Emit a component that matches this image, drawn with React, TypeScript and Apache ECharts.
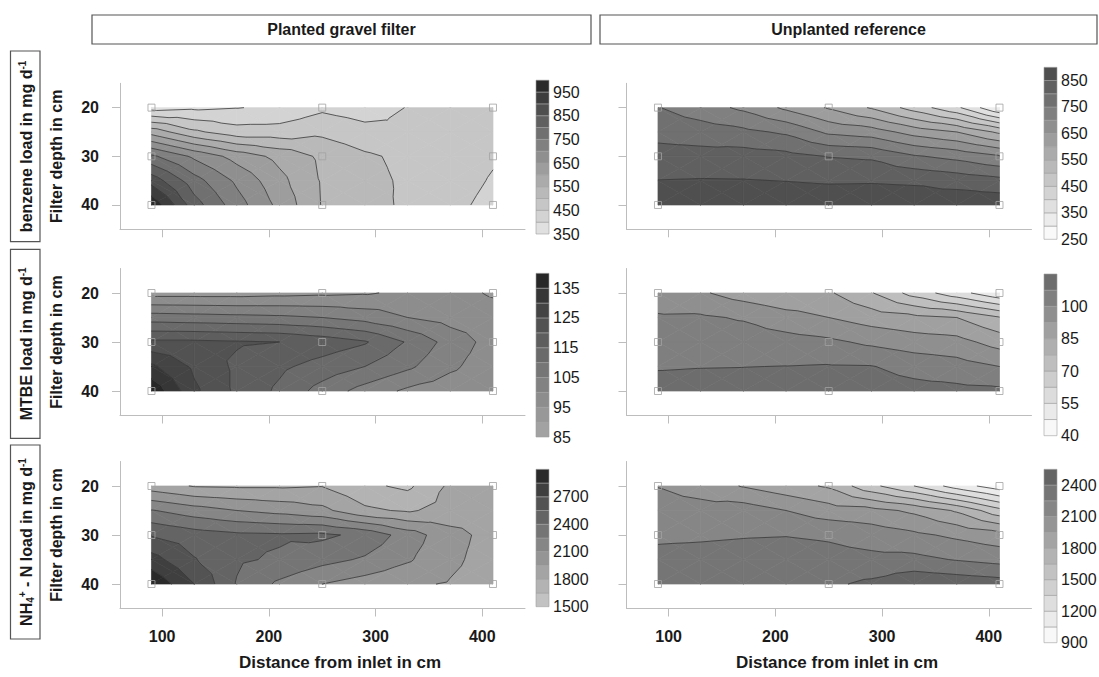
import React, { useEffect, useRef } from "react";
import * as echarts from "echarts";

// ---------- data ----------
const GRID_X = [90, 130, 170, 210, 250, 290, 330, 370, 410];
const GRID_DEPTH = [20, 25, 30, 35, 40];
const SAMPLE_X = [90, 250, 410];
const SAMPLE_DEPTH = [20, 30, 40];
const X_TICKS = [100, 200, 300, 400];
const DEPTH_TICKS = [20, 30, 40];

// rows: depth 20, 25, 30, 35, 40 ; columns: GRID_X
const benzenePlanted = [
  [380, 390, 398, 410, 440, 425, 452, 470, 478],
  [580, 510, 471, 471, 489, 467, 455, 465, 470],
  [760, 690, 630, 585, 540, 508, 488, 475, 455],
  [880, 770, 690, 615, 545, 515, 492, 470, 446],
  [990, 822, 722, 636, 547, 519, 491, 462, 437],
];
const benzeneUnplanted = [
  [752, 722, 690, 640, 595, 545, 478, 410, 300],
  [785, 775, 762, 742, 690, 675, 630, 600, 540],
  [818, 818, 822, 815, 798, 792, 755, 735, 705],
  [851, 853, 852, 849, 845, 846, 843, 830, 815],
  [880, 880, 880, 880, 880, 880, 878, 885, 885],
];
const mtbePlanted = [
  [93, 93, 93, 93.5, 94, 94.5, 96, 96.5, 94.5],
  [107.5, 107, 106.5, 106, 105, 103, 100, 98, 97],
  [121, 121, 120.5, 120, 118, 115.5, 109.5, 103, 98],
  [131, 124, 119, 116, 113, 110, 106, 101, 97],
  [139, 126, 119, 114, 108, 103, 99, 97, 96],
];
const mtbeUnplanted = [
  [96, 93.5, 89, 86, 86, 78, 67, 58, 49],
  [100.8, 101, 99.3, 95.5, 92.5, 89, 87, 85, 78],
  [103.5, 104, 104, 103, 101.5, 98.5, 96, 95, 89.5],
  [107, 107.3, 107.4, 107.6, 108, 107.8, 105, 103, 100],
  [110, 110, 110, 111, 111, 111, 110, 109.5, 109],
];
const nh4Planted = [
  [1870, 1790, 1780, 1780, 1795, 1680, 1620, 1830, 1870],
  [2260, 2170, 2100, 2050, 1990, 1830, 1780, 1860, 1880],
  [2540, 2470, 2430, 2420, 2430, 2360, 2180, 2000, 1900],
  [2760, 2560, 2420, 2380, 2300, 2230, 2120, 1980, 1890],
  [2980, 2700, 2390, 2220, 2100, 2030, 1970, 1940, 1880],
];
const nh4Unplanted = [
  [2095, 2030, 1940, 1860, 1780, 1540, 1350, 1130, 960],
  [2170, 2160, 2175, 2100, 2020, 2000, 1920, 1780, 1550],
  [2225, 2230, 2240, 2245, 2230, 2180, 2130, 2070, 2010],
  [2290, 2300, 2310, 2320, 2300, 2290, 2290, 2240, 2200],
  [2350, 2360, 2360, 2370, 2375, 2430, 2520, 2500, 2470],
];

const benzenePlantedLevels = [350, 400, 450, 500, 550, 600, 650, 700, 750, 800, 850, 900, 950, 1000];
const benzenePlantedLabels = [350, 450, 550, 650, 750, 850, 950];
const benzeneUnplantedLevels = [250, 300, 350, 400, 450, 500, 550, 600, 650, 700, 750, 800, 850, 900];
const benzeneUnplantedLabels = [250, 350, 450, 550, 650, 750, 850];
const mtbePlantedLevels = [85, 90, 95, 100, 105, 110, 115, 120, 125, 130, 135, 140];
const mtbePlantedLabels = [85, 95, 105, 115, 125, 135];
const mtbeUnplantedLevels = [40, 47.5, 55, 62.5, 70, 77.5, 85, 92.5, 100, 107.5, 115];
const mtbeUnplantedLabels = [40, 55, 70, 85, 100];
const nh4PlantedLevels = [1500, 1650, 1800, 1950, 2100, 2250, 2400, 2550, 2700, 2850, 3000];
const nh4PlantedLabels = [1500, 1800, 2100, 2400, 2700];
const nh4UnplantedLevels = [900, 1050, 1200, 1350, 1500, 1650, 1800, 1950, 2100, 2250, 2400, 2550];
const nh4UnplantedLabels = [900, 1200, 1500, 1800, 2100, 2400];

const COLUMN_TITLES = ["Planted gravel filter", "Unplanted reference"];
const ROW_TITLES = [
  "benzene load in mg d{sup|-1}",
  "MTBE load in mg d{sup|-1}",
  "NH{sub|4}{sup|+} - N load in mg d{sup|-1}",
];
const Y_TITLE = "Filter depth in cm";
const X_TITLE = "Distance from inlet in cm";
const ROW_SHADE_RANGE = [
  [250, 1000],
  [40, 140],
  [900, 3000],
];

// ---------- layout ----------
const FONT = "'Liberation Sans', Arial, Helvetica, sans-serif";
const COL_LEFT = [120, 626.5];
const AXIS_W = 405;
const ROW_TOP = [83.3, 268.5, 461.5];
const AXIS_H = [146, 147, 147];
const BAR_LEFT = [536, 1044];
const BAR_W = 13;

const PANELS = [
  { values: benzenePlanted, levels: benzenePlantedLevels, labels: benzenePlantedLabels, col: 0, row: 0, barTop: 80.2, barBottom: 234 },
  { values: benzeneUnplanted, levels: benzeneUnplantedLevels, labels: benzeneUnplantedLabels, col: 1, row: 0, barTop: 67.3, barBottom: 239.3 },
  { values: mtbePlanted, levels: mtbePlantedLevels, labels: mtbePlantedLabels, col: 0, row: 1, barTop: 273.3, barBottom: 437 },
  { values: mtbeUnplanted, levels: mtbeUnplantedLevels, labels: mtbeUnplantedLabels, col: 1, row: 1, barTop: 274, barBottom: 435.7 },
  { values: nh4Planted, levels: nh4PlantedLevels, labels: nh4PlantedLabels, col: 0, row: 2, barTop: 469.3, barBottom: 606.7 },
  { values: nh4Unplanted, levels: nh4UnplantedLevels, labels: nh4UnplantedLabels, col: 1, row: 2, barTop: 469.3, barBottom: 642.7 },
];

function shade(v: number, lo: number, hi: number) {
  const t = Math.min(1, Math.max(0, (v - lo) / (hi - lo)));
  const s = 0.12;
  const g = 1.3;
  const val = Math.pow(1 - t + t * Math.pow(s, g), 1 / g);
  const c = Math.round(255 * val);
  return `rgb(${c},${c},${c})`;
}

type P = { x: number; y: number; v: number };
function clip(poly: P[], level: number, keepAbove: boolean): P[] {
  const out: P[] = [];
  for (let k = 0; k < poly.length; k++) {
    const a = poly[k];
    const b = poly[(k + 1) % poly.length];
    const ina = keepAbove ? a.v >= level : a.v <= level;
    const inb = keepAbove ? b.v >= level : b.v <= level;
    if (ina) out.push(a);
    if (ina !== inb) {
      const t = (level - a.v) / (b.v - a.v);
      out.push({ x: a.x + t * (b.x - a.x), y: a.y + t * (b.y - a.y), v: level });
    }
  }
  return out;
}

function cellTriangles(api: any, values: number[][]) {
  const i = api.value(2);
  const j = api.value(3);
  const corners: P[] = [
    [i, j],
    [i + 1, j],
    [i + 1, j + 1],
    [i, j + 1],
  ].map(([a, b]) => {
    const p = api.coord([GRID_X[a], GRID_DEPTH[b]]);
    return { x: p[0], y: p[1], v: values[b][a] };
  });
  const center: P = {
    x: (corners[0].x + corners[1].x + corners[2].x + corners[3].x) / 4,
    y: (corners[0].y + corners[1].y + corners[2].y + corners[3].y) / 4,
    v: (corners[0].v + corners[1].v + corners[2].v + corners[3].v) / 4,
  };
  const tris: P[][] = [];
  for (let t = 0; t < 4; t++) tris.push([corners[t], corners[(t + 1) % 4], center]);
  return tris;
}

function buildOption() {
  const grid: any[] = [];
  const xAxis: any[] = [];
  const yAxis: any[] = [];
  const series: any[] = [];

  const cells: number[][] = [];
  for (let j = 0; j < GRID_DEPTH.length - 1; j++) {
    for (let i = 0; i < GRID_X.length - 1; i++) {
      cells.push([(GRID_X[i] + GRID_X[i + 1]) / 2, (GRID_DEPTH[j] + GRID_DEPTH[j + 1]) / 2, i, j]);
    }
  }
  const samples: number[][] = [];
  SAMPLE_DEPTH.forEach((d) => SAMPLE_X.forEach((x) => samples.push([x, d])));

  const axisColor = "#bdbdbd";

  PANELS.forEach((pn) => {
    const [lo, hi] = ROW_SHADE_RANGE[pn.row];
    const bandColors = pn.levels.slice(0, -1).map((l, k) => shade((l + pn.levels[k + 1]) / 2, lo, hi));

    // contour grid
    const gi = grid.length;
    grid.push({
      left: COL_LEFT[pn.col],
      top: ROW_TOP[pn.row],
      width: AXIS_W,
      height: AXIS_H[pn.row],
      containLabel: false,
      outerBoundsMode: "none",
    });
    xAxis.push({
      gridIndex: gi,
      type: "value",
      min: 60.5,
      max: 440,
      axisLine: { show: true, onZero: false, lineStyle: { color: axisColor, width: 1 } },
      axisTick: { show: true, length: 8, customValues: X_TICKS, lineStyle: { color: axisColor, width: 1 } },
      axisLabel: {
        show: pn.row === 2,
        customValues: X_TICKS,
        fontSize: 16,
        fontWeight: "bold",
        color: "#1a1a1a",
        margin: 20,
        fontFamily: FONT,
      },
      splitLine: { show: false },
    });
    yAxis.push({
      gridIndex: gi,
      type: "value",
      inverse: true,
      min: 15,
      max: 45,
      axisLine: { show: true, onZero: false, lineStyle: { color: axisColor, width: 1 } },
      axisTick: { show: true, length: 8, customValues: DEPTH_TICKS, lineStyle: { color: axisColor, width: 1 } },
      axisLabel: {
        show: pn.col === 0,
        customValues: DEPTH_TICKS,
        fontSize: 16,
        fontWeight: "bold",
        color: "#1a1a1a",
        margin: 21,
        fontFamily: FONT,
      },
      splitLine: { show: false },
    });

    const values = pn.values;
    const levels = pn.levels;
    series.push({
      type: "custom",
      xAxisIndex: gi,
      yAxisIndex: gi,
      silent: true,
      encode: { x: 0, y: 1 },
      data: cells,
      z: 1,
      renderItem: (params: any, api: any) => {
        const children: any[] = [];
        cellTriangles(api, values).forEach((tri) => {
          for (let k = 0; k < levels.length - 1; k++) {
            let poly = clip(tri, levels[k], true);
            if (poly.length < 3) continue;
            poly = clip(poly, levels[k + 1], false);
            if (poly.length < 3) continue;
            const col = bandColors[k];
            children.push({
              type: "polygon",
              shape: { points: poly.map((p) => [p.x, p.y]) },
              style: { fill: col, stroke: col, lineWidth: 0.7 },
              silent: true,
            });
          }
        });
        return { type: "group", children };
      },
    });
    series.push({
      type: "custom",
      xAxisIndex: gi,
      yAxisIndex: gi,
      silent: true,
      encode: { x: 0, y: 1 },
      data: cells,
      z: 2,
      renderItem: (params: any, api: any) => {
        const children: any[] = [];
        cellTriangles(api, values).forEach((tri) => {
          for (let k = 1; k < levels.length - 1; k++) {
            const L = levels[k];
            const pts: number[][] = [];
            for (let e = 0; e < 3; e++) {
              const a = tri[e];
              const b = tri[(e + 1) % 3];
              if (a.v < L !== b.v < L) {
                const t = (L - a.v) / (b.v - a.v);
                pts.push([a.x + t * (b.x - a.x), a.y + t * (b.y - a.y)]);
              }
            }
            if (pts.length === 2) {
              children.push({
                type: "line",
                shape: { x1: pts[0][0], y1: pts[0][1], x2: pts[1][0], y2: pts[1][1] },
                style: { stroke: "#3a3a3a", lineWidth: 0.8 },
                silent: true,
              });
            }
          }
        });
        return { type: "group", children };
      },
    });
    series.push({
      type: "scatter",
      xAxisIndex: gi,
      yAxisIndex: gi,
      silent: true,
      symbol: "rect",
      symbolSize: 7,
      data: samples,
      z: 3,
      itemStyle: { color: "rgba(0,0,0,0)", borderColor: "#a2a2a2", borderWidth: 1 },
    });

    // colour key grid
    const bi = grid.length;
    grid.push({
      left: BAR_LEFT[pn.col],
      top: pn.barTop,
      width: BAR_W,
      height: pn.barBottom - pn.barTop,
      containLabel: false,
      outerBoundsMode: "none",
    });
    xAxis.push({ gridIndex: bi, type: "value", min: 0, max: 1, show: false });
    const labelSet = new Set(pn.labels);
    yAxis.push({
      gridIndex: bi,
      type: "value",
      position: "right",
      min: levels[0],
      max: levels[levels.length - 1],
      axisLine: { show: false },
      axisTick: { show: false },
      splitLine: { show: false },
      axisLabel: {
        show: true,
        customValues: pn.labels,
        formatter: (v: number) => (labelSet.has(v) ? String(v) : ""),
        fontSize: 16,
        color: "#1a1a1a",
        margin: 4,
        fontFamily: FONT,
      },
    });
    const bands = levels.slice(0, -1).map((l, k) => [0.5, (l + levels[k + 1]) / 2, k]);
    series.push({
      type: "custom",
      xAxisIndex: bi,
      yAxisIndex: bi,
      silent: true,
      encode: { x: 0, y: 1 },
      data: bands,
      renderItem: (params: any, api: any) => {
        const k = api.value(2);
        const p0 = api.coord([0, levels[k + 1]]);
        const p1 = api.coord([1, levels[k]]);
        return {
          type: "rect",
          shape: { x: p0[0], y: p0[1], width: p1[0] - p0[0], height: p1[1] - p0[1] },
          style: { fill: bandColors[k], stroke: "#a0a0a0", lineWidth: 0.6 },
          silent: true,
        };
      },
    });
  });

  // ---------- decorations ----------
  const graphic: any[] = [];
  const stripBoxes = [
    { x: 92, w: 499 },
    { x: 600, w: 497 },
  ];
  stripBoxes.forEach((b, c) => {
    graphic.push({
      type: "rect",
      shape: { x: b.x, y: 15, width: b.w, height: 29 },
      style: { fill: "#fff", stroke: "#555", lineWidth: 1.2 },
      silent: true,
    });
    graphic.push({
      type: "text",
      x: b.x + b.w / 2,
      y: 29.5,
      style: {
        text: COLUMN_TITLES[c],
        fontSize: 16,
        fontWeight: "bold",
        fill: "#1a1a1a",
        align: "center",
        verticalAlign: "middle",
        fontFamily: FONT,
      },
      silent: true,
    });
  });
  const rowBoxes = [
    { y: 51, h: 190.7 },
    { y: 249.3, h: 189 },
    { y: 445, h: 194 },
  ];
  const rich = {
    sup: { fontSize: 10, fontWeight: "bold", verticalAlign: "top", fontFamily: FONT, fill: "#1a1a1a" },
    sub: { fontSize: 10, fontWeight: "bold", verticalAlign: "bottom", fontFamily: FONT, fill: "#1a1a1a" },
  };
  rowBoxes.forEach((b, r) => {
    graphic.push({
      type: "rect",
      shape: { x: 10.5, y: b.y, width: 29.5, height: b.h },
      style: { fill: "#fff", stroke: "#555", lineWidth: 1.2 },
      silent: true,
    });
    graphic.push({
      type: "text",
      x: 26,
      y: b.y + b.h / 2,
      rotation: Math.PI / 2,
      style: {
        text: ROW_TITLES[r],
        fontSize: 16,
        fontWeight: "bold",
        fill: "#1a1a1a",
        align: "center",
        verticalAlign: "middle",
        fontFamily: FONT,
        lineHeight: 18,
        rich,
      },
      silent: true,
    });
    graphic.push({
      type: "text",
      x: 56,
      y: ROW_TOP[r] + AXIS_H[r] / 2,
      rotation: Math.PI / 2,
      style: {
        text: Y_TITLE,
        fontSize: 16,
        fontWeight: "bold",
        fill: "#1a1a1a",
        align: "center",
        verticalAlign: "middle",
        fontFamily: FONT,
      },
      silent: true,
    });
  });
  [340, 837].forEach((cx) => {
    graphic.push({
      type: "text",
      x: cx,
      y: 662,
      style: {
        text: X_TITLE,
        fontSize: 17,
        fontWeight: "bold",
        fill: "#1a1a1a",
        align: "center",
        verticalAlign: "middle",
        fontFamily: FONT,
      },
      silent: true,
    });
  });

  return {
    animation: false,
    backgroundColor: "#ffffff",
    textStyle: { fontFamily: FONT },
    grid,
    xAxis,
    yAxis,
    series,
    graphic,
  };
}

export default function App() {
  const ref = useRef<HTMLDivElement>(null);
  useEffect(() => {
    if (!ref.current) return;
    const chart = echarts.init(ref.current, undefined, { renderer: "svg" });
    chart.setOption(buildOption() as any);
    return () => chart.dispose();
  }, []);
  return (
    <div
      ref={ref}
      style={{ position: "fixed", left: 0, top: 0, width: 1099, height: 677, background: "#fff" }}
    />
  );
}
